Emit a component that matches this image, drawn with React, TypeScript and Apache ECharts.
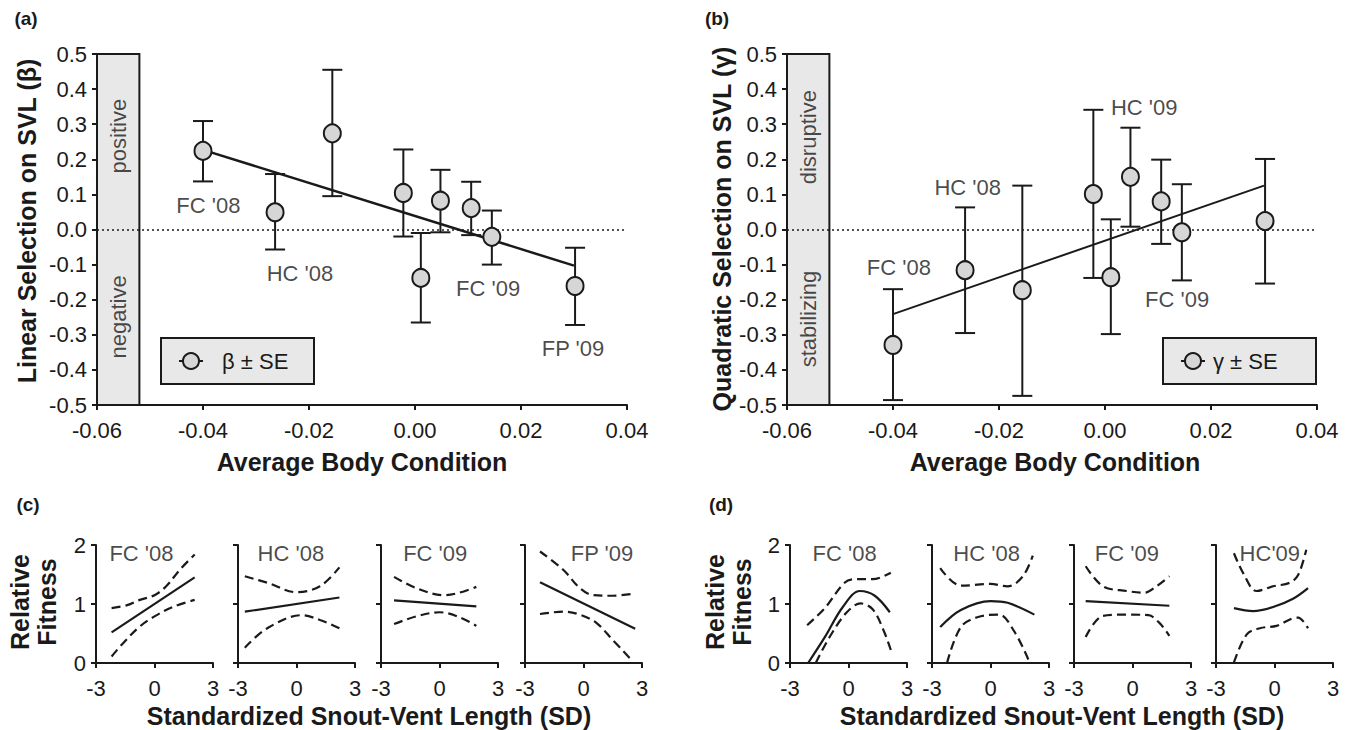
import React, { useEffect, useRef } from "react";
import * as echarts from "echarts";

// ---------- Data: panels (a) and (b) ----------
const bodyCondition = [-0.04, -0.0264, -0.0156, -0.0022, 0.0011, 0.0048, 0.0106, 0.0145, 0.0302];

const betaEst = [0.224, 0.049, 0.274, 0.104, -0.138, 0.082, 0.061, -0.021, -0.161];
const betaUpper = [0.309, 0.158, 0.455, 0.228, -0.01, 0.17, 0.136, 0.054, -0.052];
const betaLower = [0.137, -0.057, 0.095, -0.02, -0.265, -0.008, -0.016, -0.1, -0.272];
const betaFit = [[-0.04, 0.227], [0.03, -0.103]];

const gammaEst = [-0.329, -0.116, -0.173, 0.101, -0.136, 0.15, 0.08, -0.008, 0.024];
const gammaUpper = [-0.17, 0.063, 0.125, 0.341, 0.029, 0.29, 0.199, 0.129, 0.201];
const gammaLower = [-0.486, -0.295, -0.474, -0.138, -0.298, 0.008, -0.041, -0.145, -0.154];
const gammaFit = [[-0.04, -0.241], [0.03, 0.125]];

const betaLabels = [
  { text: "FC '08", x: -0.039, y: 0.068 },
  { text: "HC '08", x: -0.0217, y: -0.126 },
  { text: "FC '09", x: 0.0138, y: -0.169 },
  { text: "FP '09", x: 0.0298, y: -0.339 },
];
const gammaLabels = [
  { text: "HC '09", x: 0.0074, y: 0.347 },
  { text: "HC '08", x: -0.0259, y: 0.121 },
  { text: "FC '08", x: -0.0389, y: -0.109 },
  { text: "FC '09", x: 0.0136, y: -0.199 },
];
const betaBoxLabels = [
  { text: "positive", y: 0.266 },
  { text: "negative", y: -0.249 },
];
const gammaBoxLabels = [
  { text: "disruptive", y: 0.263 },
  { text: "stabilizing", y: -0.255 },
];

const xTicksBig = { min: -0.06, max: 0.04, interval: 0.02 };
const yTicksBig = { min: -0.5, max: 0.5, interval: 0.1 };

// ---------- Data: panels (c) and (d) ----------
const linearNames = ["FC '08", "HC '08", "FC '09", "FP '09"];
const linearNameX = [-0.67, -0.29, -0.22, 0.95];
const linearFit = [
  [[-2.2, 0.52], [2.06, 1.45]],
  [[-2.65, 0.87], [2.2, 1.11]],
  [[-2.33, 1.06], [1.89, 0.96]],
  [[-2.23, 1.37], [2.65, 0.58]],
];
const linearUpper = [
  [[-2.2, 0.93], [-1.4, 0.98], [-0.75, 1.07], [0, 1.15], [0.6, 1.3], [1.3, 1.58], [2.06, 1.84]],
  [[-2.65, 1.47], [-1.5, 1.36], [0, 1.2], [1.2, 1.3], [2.2, 1.62]],
  [[-2.33, 1.46], [-1.2, 1.27], [0.22, 1.15], [1.0, 1.19], [1.89, 1.29]],
  [[-2.23, 1.89], [-1.04, 1.58], [-0.19, 1.27], [0.48, 1.15], [1.5, 1.14], [2.49, 1.17]],
];
const linearLower = [
  [[-2.2, 0.11], [-1.6, 0.34], [-0.75, 0.62], [0, 0.79], [0.95, 0.95], [2.06, 1.07]],
  [[-2.65, 0.26], [-1.5, 0.59], [0.27, 0.81], [1.2, 0.73], [2.2, 0.59]],
  [[-2.33, 0.66], [-1.2, 0.79], [0, 0.86], [1.0, 0.78], [1.89, 0.63]],
  [[-2.23, 0.83], [-1.04, 0.87], [-0.19, 0.82], [0.66, 0.68], [1.5, 0.39], [2.44, 0.06]],
];

const quadNames = ["FC '08", "HC '08", "FC '09", "HC'09"];
const quadNameX = [-0.2, -0.2, -0.29, -0.24];
const quadFit = [
  [[-2.07, 0], [-1.19, 0.45], [-0.31, 0.94], [0.58, 1.22], [1.35, 1.14], [2.12, 0.86]],
  [[-2.58, 0.61], [-1.52, 0.9], [0, 1.05], [0.88, 1.02], [2.25, 0.82]],
  [[-2.4, 1.05], [1.89, 0.97]],
  [[-2.08, 0.93], [-1.09, 0.88], [-0.07, 0.95], [0.95, 1.09], [1.72, 1.27]],
];
const quadUpper = [
  [[-2.12, 0.64], [-1.19, 0.94], [-0.2, 1.36], [0.35, 1.42], [1.24, 1.42], [2.17, 1.53]],
  [[-2.58, 1.61], [-1.52, 1.31], [0, 1.34], [0.88, 1.3], [1.66, 1.47], [2.17, 1.82]],
  [[-2.4, 1.64], [-1.51, 1.3], [-0.29, 1.22], [0.6, 1.19], [1.27, 1.31], [1.89, 1.47]],
  [[-2.08, 1.86], [-1.6, 1.52], [-0.92, 1.22], [-0.07, 1.3], [0.78, 1.36], [1.21, 1.49], [1.63, 1.92]],
];
const quadLower = [
  [[-1.68, 0], [-0.97, 0.44], [-0.11, 0.85], [0.62, 1.01], [1.24, 0.91], [1.79, 0.56], [2.17, 0.22]],
  [[-2.23, 0], [-1.52, 0.61], [-0.64, 0.78], [0.44, 0.82], [1.21, 0.54], [1.94, 0.06]],
  [[-2.4, 0.44], [-1.51, 0.8], [-0.29, 0.82], [0.82, 0.81], [1.38, 0.68], [1.89, 0.46]],
  [[-2.08, 0.01], [-1.43, 0.48], [-0.75, 0.59], [0.1, 0.63], [0.95, 0.76], [1.21, 0.77], [1.72, 0.59]],
];
const subNameY = 1.86;
const xTicksSmall = { min: -3, max: 3, interval: 3 };
const yTicksSmall = { min: 0, max: 2, interval: 1 };

// ---------- Style ----------
const FONT = "'Liberation Sans', Arial, Helvetica, sans-serif";
const INK = "#1a1a1a";
const BOX = "#e8e8e8";
const DOT = "#d6d6d6";

const bigGrids = [
  { left: 97, top: 54, width: 530, height: 351 },
  { left: 787, top: 54, width: 530, height: 351 },
];
const smallLefts = [96, 238, 381, 525, 790, 932, 1074, 1216];
const smallTop = 545;
const smallW = 117;
const smallH = 118;

const fmt = (d: number) => (v: number) => (Math.abs(v) < 1e-9 ? (0).toFixed(d) : v.toFixed(d));

function buildOption() {
  const grid: any[] = [];
  const xAxis: any[] = [];
  const yAxis: any[] = [];
  const series: any[] = [];

  const axisCommon = (tickLen: number) => ({
    axisLine: { show: true, onZero: false, lineStyle: { color: INK, width: 2 } },
    axisTick: { show: true, length: tickLen, lineStyle: { color: INK, width: 2 } },
    splitLine: { show: false },
  });
  const labelStyle = { color: INK, fontSize: 22, fontFamily: FONT, textBorderWidth: 0 };

  // big panels
  const bigSets = [
    { est: betaEst, up: betaUpper, lo: betaLower, fit: betaFit, labels: betaLabels, box: betaBoxLabels },
    { est: gammaEst, up: gammaUpper, lo: gammaLower, fit: gammaFit, labels: gammaLabels, box: gammaBoxLabels },
  ];
  bigSets.forEach((s, g) => {
    grid.push({ ...bigGrids[g], containLabel: false });
    xAxis.push({
      gridIndex: g, type: "value", ...xTicksBig, ...axisCommon(5),
      axisLabel: { ...labelStyle, margin: 14, formatter: fmt(2) },
    });
    yAxis.push({
      gridIndex: g, type: "value", ...yTicksBig, ...axisCommon(5),
      axisLabel: { ...labelStyle, margin: 10, formatter: fmt(1) },
    });
    series.push({
      type: "line", xAxisIndex: g, yAxisIndex: g, data: s.fit, symbol: "none", z: 3,
      lineStyle: { color: INK, width: g === 0 ? 2.5 : 2 },
      markArea: {
        silent: true,
        itemStyle: { color: BOX, borderColor: INK, borderWidth: 2 },
        data: [[{ xAxis: -0.06, yAxis: -0.5 }, { xAxis: -0.052, yAxis: 0.5 }]],
      },
      markLine: {
        silent: true, symbol: "none", label: { show: false },
        lineStyle: { color: INK, type: [2, 3], width: 1.5 },
        data: [{ yAxis: 0 }],
      },
    });
    series.push({
      type: "custom", xAxisIndex: g, yAxisIndex: g, z: 4,
      encode: { x: 0, y: [1, 2] },
      data: bodyCondition.map((x, i) => [x, s.lo[i], s.up[i]]),
      renderItem: (_p: any, api: any) => {
        const x = api.value(0);
        const a = api.coord([x, api.value(1)]);
        const b = api.coord([x, api.value(2)]);
        const w = 10;
        const st = { stroke: INK, lineWidth: 2 };
        return {
          type: "group",
          children: [
            { type: "line", shape: { x1: a[0], y1: a[1], x2: b[0], y2: b[1] }, style: st },
            { type: "line", shape: { x1: a[0] - w, y1: a[1], x2: a[0] + w, y2: a[1] }, style: st },
            { type: "line", shape: { x1: b[0] - w, y1: b[1], x2: b[0] + w, y2: b[1] }, style: st },
          ],
        };
      },
    });
    series.push({
      type: "scatter", xAxisIndex: g, yAxisIndex: g, z: 5,
      name: g === 0 ? "β ± SE" : "γ ± SE",
      data: bodyCondition.map((x, i) => [x, s.est[i]]),
      symbol: "circle", symbolSize: [17, 18],
      itemStyle: { color: DOT, borderColor: INK, borderWidth: 2, opacity: 1 },
    });
    series.push({
      type: "scatter", xAxisIndex: g, yAxisIndex: g, z: 6, silent: true,
      data: s.labels.map((l) => ({ value: [l.x, l.y], name: l.text })),
      symbolSize: 1, itemStyle: { color: "rgba(0,0,0,0)" },
      label: { show: true, position: "inside", formatter: (p: any) => p.name, ...labelStyle },
    });
    series.push({
      type: "scatter", xAxisIndex: g, yAxisIndex: g, z: 6, silent: true,
      data: s.box.map((l) => ({ value: [-0.056, l.y], name: l.text })),
      symbolSize: 1, itemStyle: { color: "rgba(0,0,0,0)" },
      label: { show: true, position: "inside", rotate: 90, formatter: (p: any) => p.name, ...labelStyle },
    });
  });

  // small panels
  const smallSets: any[] = [];
  for (let i = 0; i < 4; i++) smallSets.push({ fit: linearFit[i], up: linearUpper[i], lo: linearLower[i], name: linearNames[i], nx: linearNameX[i], first: i === 0 });
  for (let i = 0; i < 4; i++) smallSets.push({ fit: quadFit[i], up: quadUpper[i], lo: quadLower[i], name: quadNames[i], nx: quadNameX[i], first: i === 0 });

  smallSets.forEach((s, k) => {
    const g = 2 + k;
    grid.push({ left: smallLefts[k], top: smallTop, width: smallW, height: smallH, containLabel: false });
    xAxis.push({
      gridIndex: g, type: "value", ...xTicksSmall, ...axisCommon(5),
      axisLabel: { ...labelStyle, margin: 14 },
    });
    yAxis.push({
      gridIndex: g, type: "value", ...yTicksSmall, ...axisCommon(5),
      axisLabel: { ...labelStyle, show: s.first, margin: 10 },
    });
    series.push({
      type: "line", xAxisIndex: g, yAxisIndex: g, data: s.fit, symbol: "none", smooth: 0.35,
      lineStyle: { color: INK, width: 2.2 }, z: 3,
    });
    [s.up, s.lo].forEach((d: any) => {
      series.push({
        type: "line", xAxisIndex: g, yAxisIndex: g, data: d, symbol: "none", smooth: 0.35,
        lineStyle: { color: INK, width: 2.2, type: [9, 5] }, z: 3,
      });
    });
    series.push({
      type: "scatter", xAxisIndex: g, yAxisIndex: g, z: 6, silent: true,
      data: [{ value: [s.nx, subNameY], name: s.name }],
      symbolSize: 1, itemStyle: { color: "rgba(0,0,0,0)" },
      label: { show: true, position: "inside", formatter: (p: any) => p.name, ...labelStyle },
    });
  });

  const title = (text: string, x: number, y: number, size: number, rot = 0, extra: any = {}) => ({
    type: "text", x, y, rotation: rot, z: 100,
    style: { text, fontSize: size, fontWeight: "bold", fontFamily: FONT, fill: INK, align: "center", verticalAlign: "middle", ...extra },
  });

  const legendBox = (x: number, y: number, w: number, h: number, cx: number, tx: number, text: string) => [
    { type: "rect", z: 100, shape: { x, y, width: w, height: h }, style: { fill: BOX, stroke: INK, lineWidth: 2 } },
    { type: "line", z: 101, shape: { x1: cx - 12, y1: y + h / 2, x2: cx + 12, y2: y + h / 2 }, style: { stroke: INK, lineWidth: 2 } },
    { type: "circle", z: 102, shape: { cx, cy: y + h / 2, r: 8 }, style: { fill: DOT, stroke: INK, lineWidth: 2 } },
    { type: "text", z: 102, x: tx, y: y + h / 2, style: { text, fontSize: 22, fontFamily: FONT, fill: INK, align: "left", verticalAlign: "middle" } },
  ];

  const graphic: any[] = [
    title("(a)", 26, 18, 19),
    title("(b)", 717, 18, 19),
    title("(c)", 28, 504, 19),
    title("(d)", 721, 504, 19),
    title("Linear Selection on SVL (β)", 27, 221, 25, Math.PI / 2),
    title("Quadratic Selection on SVL (γ)", 722, 229, 25, Math.PI / 2),
    title("Average Body Condition", 362, 462, 25),
    title("Average Body Condition", 1055, 462, 25),
    title("Relative\nFitness", 33, 602, 25, Math.PI / 2, { lineHeight: 27 }),
    title("Relative\nFitness", 728, 602, 25, Math.PI / 2, { lineHeight: 27 }),
    title("Standardized Snout-Vent Length (SD)", 369, 716, 25),
    title("Standardized Snout-Vent Length (SD)", 1062, 716, 25),
    ...legendBox(161, 338, 153, 46, 191, 222, "β ± SE"),
    ...legendBox(1163, 338, 153, 46, 1193, 1213, "γ ± SE"),
  ];

  return {
    animation: false,
    backgroundColor: "#ffffff",
    textStyle: { fontFamily: FONT, color: INK },
    grid, xAxis, yAxis, series, graphic,
  };
}

export default function App() {
  const ref = useRef<HTMLDivElement>(null);
  useEffect(() => {
    if (!ref.current) return;
    const chart = echarts.init(ref.current, undefined, { renderer: "svg" });
    chart.setOption(buildOption() as any);
    return () => chart.dispose();
  }, []);
  return (
    <div
      ref={ref}
      style={{ position: "absolute", left: 0, top: 0, width: 1352, height: 730, background: "#fff" }}
    />
  );
}
